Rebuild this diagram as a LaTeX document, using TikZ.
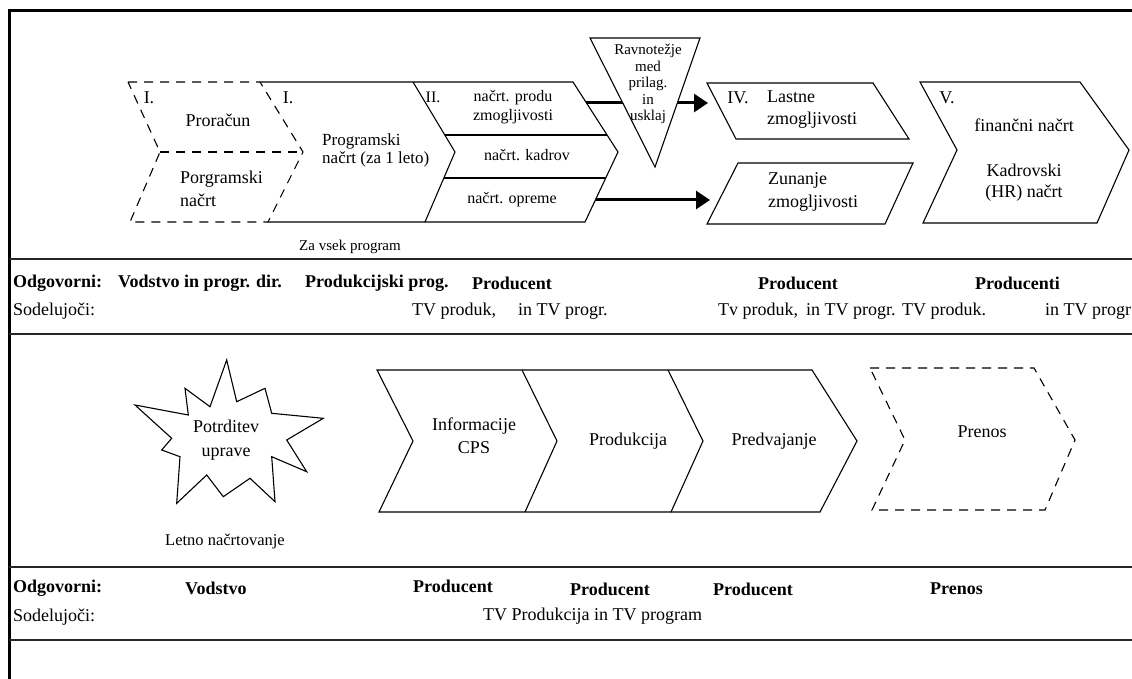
\documentclass[tikz,border=0pt]{standalone}
\usepackage{fontspec}
\setmainfont{Liberation Serif}
\usetikzlibrary{arrows.meta}
\tikzset{
  shp/.style={draw=black, line width=1.1pt, line join=miter},
  dsh/.style={shp, dash pattern=on 9pt off 7pt},
  txt/.style={inner sep=0pt, font=\fontsize{18}{20}\selectfont},
  tsm/.style={inner sep=0pt, font=\fontsize{16}{19}\selectfont},
  ttri/.style={inner sep=0pt, align=center, font=\fontsize{15}{16.5}\selectfont},
  tbold/.style={inner sep=0pt, anchor=west, font=\fontsize{18}{20}\selectfont\bfseries},
  treg/.style={inner sep=0pt, anchor=west, font=\fontsize{18}{20}\selectfont},
  tabrule/.style={line width=1.8pt, draw=black!85},
  framerule/.style={line width=3pt},
  arr/.style={line width=3pt, -{Triangle[length=14pt,width=18pt]}},
}
\begin{document}
\begin{tikzpicture}[x=1pt,y=-1pt]
\useasboundingbox (0,0) rectangle (1132,679);
% frame and table rules
\draw[framerule] (9.5,679) -- (9.5,10.5) -- (1132,10.5);
\draw[tabrule] (9,259) -- (1132,259);
\draw[tabrule] (9,334) -- (1132,334);
\draw[tabrule] (9,567) -- (1132,567);
\draw[tabrule] (9,640) -- (1132,640);

% ---------- top process ----------
% dashed stack (Proracun / Porgramski nacrt)
\draw[dsh] (128,82) -- (260,82) -- (303,152) -- (268,222) -- (130,222) -- (160,152) -- cycle;
\draw[dsh] (160,152) -- (303,152);
% Programski nacrt chevron
\draw[shp] (260,82) -- (413,82) -- (455,152) -- (425,222) -- (268,222);
% II group
\draw[shp] (413,82) -- (573,82) -- (618,152) -- (585,222) -- (425,222);
\draw[shp] (445,135) -- (607,135);
\draw[shp] (444,178) -- (606,178);

% arrows (drawn below the triangle)
\coordinate (a1s) at (586,103);
\coordinate (a1e) at (708,103);
\coordinate (a2s) at (596,200);
\coordinate (a2e) at (710,200);
\draw[arr] (a1s) -- (a1e);
\draw[arr] (a2s) -- (a2e);

% triangle
\draw[shp, fill=white] (590,38) -- (700,38) -- (655,167) -- cycle;

% IV and Zunanje
\draw[shp] (707,83) -- (873,83) -- (909,139) -- (736,139) -- cycle;
\draw[shp] (738,163) -- (913,163) -- (885,224) -- (707,224) -- cycle;
% V chevron
\draw[shp] (920,82) -- (1080,82) -- (1129,150) -- (1097,223) -- (923,223) -- (957,150) -- cycle;

% texts top
\node[txt] (i1) at (149,98) {I.};
\node[txt] (i2) at (288,98) {I.};
\node[txt] (prorac) at (218,120) {Proračun};
\node[inner sep=0pt, anchor=west, align=left, font=\fontsize{18}{23}\selectfont] (porg) at (180,189) {Porgramski\\načrt};
\node[inner sep=0pt, anchor=west, align=left, font=\fontsize{17}{18}\selectfont] (prog) at (322,150) {Programski\\načrt (za 1 leto)};
\node[tsm] (ii) at (433,97) {II.};
\node[tsm, align=center] (prod) at (513,107) {načrt. produ\\zmogljivosti};
\node[tsm] (kadr) at (527,155) {načrt. kadrov};
\node[tsm] (opr) at (512,200) {načrt. opreme};
\node[ttri] (ravn) at (648,84) {Ravnotežje\\med\\prilag.\\in\\usklaj};
\node[inner sep=0pt, font=\fontsize{15}{17}\selectfont] (za) at (350,247) {Za vsek program};
\node[txt] (iv) at (738,98) {IV.};
\node[inner sep=0pt, anchor=west, align=left, font=\fontsize{18}{22}\selectfont] (last) at (767,110) {Lastne\\zmogljivosti};
\node[inner sep=0pt, anchor=west, align=left, font=\fontsize{18}{23}\selectfont] (zun) at (768,192) {Zunanje\\zmogljivosti};
\node[txt] (v) at (947,98) {V.};
\node[txt] (fin) at (1024,125) {finančni načrt};
\node[inner sep=0pt, align=center, font=\fontsize{18}{21}\selectfont] (kadrovski) at (1024,183) {Kadrovski\\(HR) načrt};

% table 1
\node[tbold] (o1) at (13,283) {Odgovorni:};
\node[tbold] (o1a) at (118,283) {Vodstvo in progr. dir.};
\node[tbold] (o1b) at (305,283) {Produkcijski prog.};
\node[tbold] (o1c) at (472,283) {Producent};
\node[tbold] (o1d) at (758,283) {Producent};
\node[tbold] (o1e) at (975,283) {Producenti};
\node[treg] (s1) at (13,311) {Sodelujoči:};
\node[treg] (s1a) at (412,311) {TV produk,};
\node[treg] (s1b) at (518,311) {in TV progr.};
\node[treg] (s1c) at (718,311) {Tv produk,};
\node[treg] (s1d) at (806,311) {in TV progr.};
\node[treg] (s1e) at (902,311) {TV produk.};
\node[treg] (s1f) at (1045,311) {in TV progr};

% ---------- bottom process ----------
\draw[shp] (226.7,360) -- (236.7,401.7) -- (265,388.3) -- (271.7,413.3) -- (323.3,418.3)
  -- (286.7,440) -- (306.7,471.7) -- (271.7,456.7) -- (275,501.7) -- (250,478.3)
  -- (223.3,496.7) -- (206.7,475) -- (176.7,503.3) -- (180,456.7) -- (161.7,450)
  -- (171.7,438.3) -- (135,405) -- (188.3,415) -- (185,388.3) -- (210,406.7) -- cycle;
\node[inner sep=0pt, align=center, font=\fontsize{18}{24}\selectfont] (potr) at (226,440) {Potrditev\\uprave};
\node[inner sep=0pt, font=\fontsize{16.5}{18}\selectfont] (letno) at (225,542) {Letno načrtovanje};

\draw[shp] (377,370) -- (522,370) -- (557,441) -- (525,512) -- (379,512) -- (413,441) -- cycle;
\draw[shp] (522,370) -- (668,370) -- (703,441) -- (671,512) -- (525,512);
\draw[shp] (668,370) -- (812,370) -- (857,441) -- (820,512) -- (671,512);
\draw[dsh] (870,368) -- (1034,368) -- (1075,440) -- (1045,510) -- (872,510) -- (905,440) -- cycle;

\node[inner sep=0pt, align=center, font=\fontsize{18}{23}\selectfont] (info) at (474,436) {Informacije\\CPS};
\node[txt] (produkcija) at (628,441) {Produkcija};
\node[txt] (predv) at (774,441) {Predvajanje};
\node[txt] (prenos) at (982,432) {Prenos};

% table 2
\node[tbold] (o2) at (13,588) {Odgovorni:};
\node[tbold] (o2a) at (185,588) {Vodstvo};
\node[tbold] (o2b) at (413,586) {Producent};
\node[tbold] (o2c) at (570,589) {Producent};
\node[tbold] (o2d) at (713,589) {Producent};
\node[tbold] (o2e) at (930,589) {Prenos};
\node[treg] (s2) at (13,617) {Sodelujoči:};
\node[treg] (s2a) at (483,616) {TV Produkcija in TV program};
\end{tikzpicture}
\end{document}
